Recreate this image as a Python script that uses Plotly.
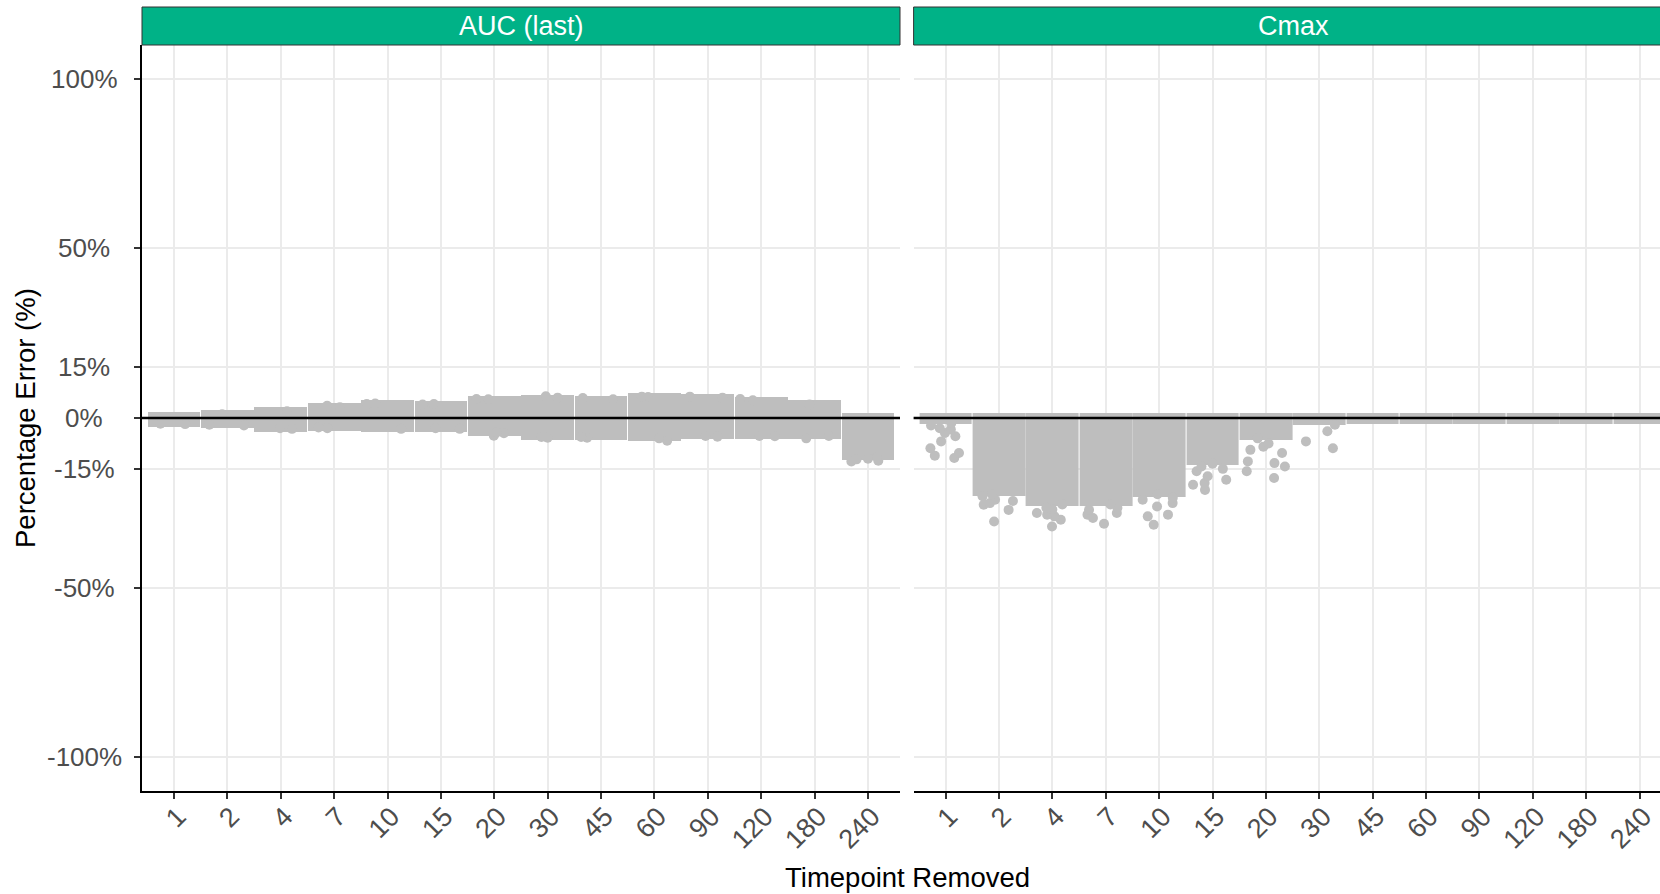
import plotly.graph_objects as go

# ---------------- data ----------------
timepoints = ["1", "2", "4", "7", "10", "15", "20", "30", "45", "60", "90", "120", "180", "240"]
y_tick_vals = [100, 50, 15, 0, -15, -50, -100]
y_tick_text = ["100%", "50%", "15%", "0%", "-15%", "-50%", "-100%"]
panels = ["AUC (last)", "Cmax"]

# dense range of the jittered points per timepoint (percentage error)
auc_low = [-1.3, -1.5, -2.7, -2.3, -2.7, -2.7, -3.7, -5.0, -5.0, -5.2, -4.8, -4.8, -4.8, -10.8]
auc_high = [0.2, 0.9, 1.7, 2.9, 3.9, 3.6, 5.1, 5.4, 4.9, 5.9, 5.6, 4.7, 3.7, 0.0]
# isolated points sticking out of the dense clouds
auc_extra = [
    [-1.8, -1.7], [-2.2, -2.0, 1.1], [-3.2, -3.0, 2.0], [3.6, 3.2, -3.0, -2.8],
    [-3.2, 4.3, 4.1], [4.1, 4.0, -3.2, -3.0], [5.6, 5.5, -5.2, -4.5, -4.3],
    [6.4, 6.0, -5.8, -5.6], [5.9, 5.5, -5.8, -5.6], [6.3, 6.2, -6.7, -6.0],
    [6.3, 6.0, -5.5, -5.3], [5.6, 5.2, -5.4, -5.3], [4.0, -6.0, -5.3],
    [-12.8, -12.6, -12.2, -12.0, -11.6],
]

cmax_low = [-0.3, -21.5, -24.6, -24.6, -21.7, -12.5, -5.0, -0.5, -0.3, -0.3, -0.3, -0.3, -0.3, -0.3]
cmax_high = [0.0, 0.0, 0.0, 0.0, 0.0, 0.0, 0.0, 0.0, 0.0, 0.0, 0.0, 0.0, 0.0, 0.0]
cmax_extra = [
    [-1.5, -2.2, -3.0, -3.4, -4.4, -5.4, -6.9, -8.9, -10.3, -11.1, -11.8],
    [-22.5, -23.1, -24.1, -24.5, -25.1, -25.6, -27.1, -30.5],
    [-25.5, -26.5, -27.0, -28.0, -28.5, -29.0, -30.0, -32.0],
    [-25.5, -26.5, -27.1, -28.0, -28.5, -29.5, -31.2],
    [-22.5, -23.5, -24.1, -25.1, -26.1, -28.5, -29.0, -31.5],
    [-13.5, -14.3, -15.0, -15.7, -17.2, -18.2, -19.2, -19.7, -21.2],
    [-6.0, -7.5, -8.5, -9.4, -10.3, -12.8, -13.3, -14.3, -15.7, -17.7],
    [-2.0, -3.9, -6.9, -8.9],
    [], [], [], [], [], [],
]

# ---------------- style ----------------
W, H = 1660, 894
ML, MR, MT, MB = 142, 0, 45, 103
PW, PH = W - ML - MR, H - MT - MB
POINT = "#BEBEBE"
STRIP = "#00B287"
GRID = "#EBEBEB"
TICKC = "#4D4D4D"
FONT = "Liberation Sans, Arial, sans-serif"

left_dom = [0, (900 - ML) / PW]
right_dom = [(913.6 - ML) / PW, 1]
upp = (900 - ML) / 14.2  # px per category unit
right_hi = -0.6 + (W - 913.6) / upp

fig = go.Figure()

def add_panel(low, high, extra, xa, ya):
    fig.add_trace(go.Bar(
        x=timepoints, base=low, y=[h - l for h, l in zip(high, low)],
        width=0.8, marker=dict(color=POINT, line=dict(color=POINT, width=10)),
        xaxis=xa, yaxis=ya, showlegend=False, hoverinfo="skip",
    ))
    xs, ys = [], []
    for tp, vals in zip(timepoints, extra):
        for v in vals:
            xs.append(tp)
            ys.append(v)
    fig.add_trace(go.Box(
        x=xs, y=ys, boxpoints="all", jitter=1, pointpos=0, width=0.8,
        fillcolor="rgba(0,0,0,0)", line=dict(width=0, color="rgba(0,0,0,0)"),
        marker=dict(color=POINT, size=10, opacity=1),
        xaxis=xa, yaxis=ya, showlegend=False, hoverinfo="skip",
    ))

add_panel(auc_low, auc_high, auc_extra, "x", "y")
add_panel(cmax_low, cmax_high, cmax_extra, "x2", "y2")

xcommon = dict(
    type="category", categoryorder="array", categoryarray=timepoints,
    showgrid=True, gridcolor=GRID, gridwidth=2,
    showline=True, linecolor="black", linewidth=2,
    ticks="outside", ticklen=6, tickwidth=2, tickcolor="#333333",
    tickangle=-45, tickfont=dict(family=FONT, size=27, color=TICKC),
    ticklabelstandoff=-9, ticklabelshift=4,
    zeroline=False,
)
ycommon = dict(
    range=[-110, 110], tickvals=y_tick_vals, showticklabels=False,
    showgrid=True, gridcolor=GRID, gridwidth=2, zeroline=False,
)

fig.update_layout(
    width=W, height=H,
    margin=dict(l=ML, r=MR, t=MT, b=MB),
    paper_bgcolor="white", plot_bgcolor="white",
    xaxis=dict(domain=left_dom, range=[-0.6, 13.6], anchor="y", **xcommon),
    xaxis2=dict(domain=right_dom, range=[-0.6, right_hi], anchor="y2", **xcommon),
    yaxis=dict(domain=[0, 1], anchor="x", showline=True, linecolor="black", linewidth=2,
               ticks="outside", ticklen=6, tickwidth=2, tickcolor="#333333", **ycommon),
    yaxis2=dict(domain=[0, 1], anchor="x2", matches="y", showline=False, ticks="", **ycommon),
    bargap=0,
)

# zero reference lines
for xr, yr in (("x domain", "y"), ("x2 domain", "y2")):
    fig.add_shape(type="line", xref=xr, yref=yr, x0=0, x1=1, y0=0, y1=0,
                  line=dict(color="black", width=2.5), layer="above")

# facet strips
strip_top = 1 + 38 / PH
for (x0, x1), label, cx in ((left_dom, panels[0], (left_dom[0] + left_dom[1]) / 2),
                            ((right_dom[0], 1.05), panels[1], (1293 - ML) / PW)):
    fig.add_shape(type="rect", xref="paper", yref="paper", x0=x0, x1=x1, y0=1, y1=strip_top,
                  fillcolor=STRIP, line=dict(color="#333333", width=1), layer="above")
    fig.add_annotation(xref="paper", yref="paper", x=cx, y=(1 + strip_top) / 2,
                       text=label, showarrow=False, xanchor="center", yanchor="middle",
                       font=dict(family=FONT, size=27, color="white"))

# y tick labels (centred, as in the reference)
for v, t in zip(y_tick_vals, y_tick_text):
    fig.add_annotation(xref="paper", yref="y", x=(84 - ML) / PW, y=v, text=t,
                       showarrow=False, xanchor="center", yanchor="middle",
                       font=dict(family=FONT, size=26, color=TICKC))

# axis titles
fig.add_annotation(xref="paper", yref="paper", x=(25 - ML) / PW, y=0.5,
                   text="Percentage Error (%)", textangle=-90, showarrow=False,
                   xanchor="center", yanchor="middle",
                   font=dict(family=FONT, size=27.5, color="black"))
fig.add_annotation(xref="paper", yref="paper", x=(907 - ML) / PW, y=(MT + PH - 894) / PH,
                   text="Timepoint Removed", showarrow=False, borderpad=0,
                   xanchor="center", yanchor="bottom",
                   font=dict(family=FONT, size=27.5, color="black"))

fig.write_html("out.html")
